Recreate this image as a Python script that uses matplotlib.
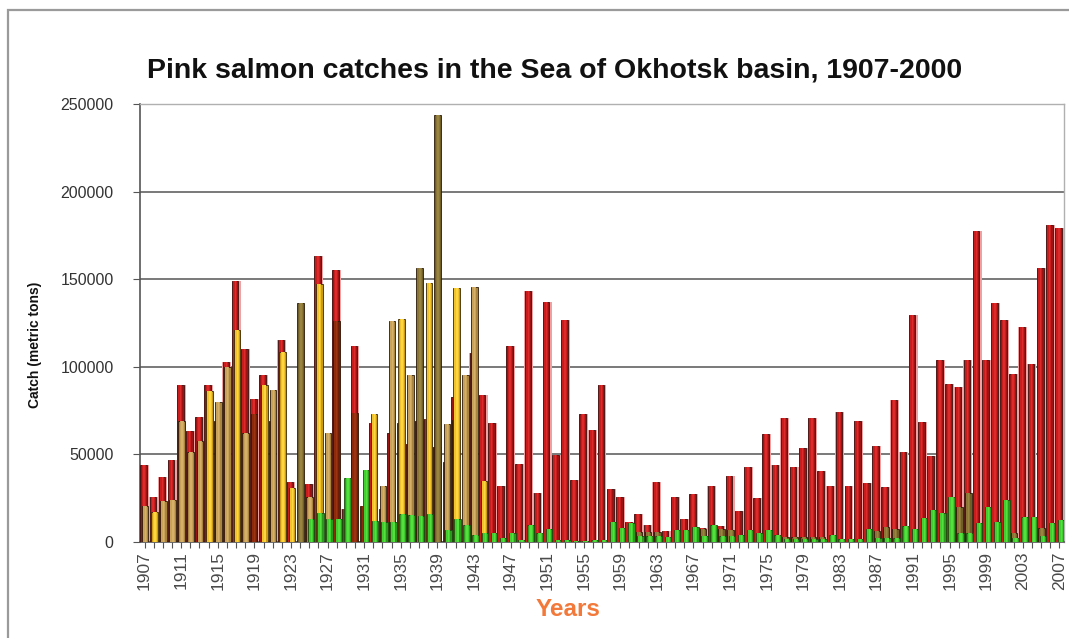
import numpy as np
import matplotlib
matplotlib.use("Agg")
import matplotlib.pyplot as plt
from matplotlib.patches import Rectangle

plt.rcParams['font.family'] = ['Liberation Sans', 'DejaVu Sans']

years = list(range(1907, 2008))

# Total catch by year, 1907-2007 (metric tons)
total = [
    44000, 25700, 36700, 46800, 89600, 63400, 71300, 89600, 0, 102700,
    149000, 110000, 81600, 95300, 0, 115000, 34200, 0, 33000, 163000,
    0, 155000, 18800, 112000, 0, 68000, 0, 62000, 0, 56000,
    69000, 70000, 54000, 0, 82800, 0, 108000, 84000, 68000, 32000,
    111500, 44500, 143000, 27600, 137000, 49500, 126500, 35000, 73000, 64000,
    89600, 30000, 25500, 11200, 15800, 9500, 34000, 6100, 25500, 12700,
    27000, 8000, 31800, 9000, 37700, 17500, 42400, 25000, 61800, 44000,
    70400, 42400, 53600, 70400, 40500, 32000, 73800, 31800, 68700, 33300,
    54400, 31000, 80700, 51000, 129400, 68100, 49000, 103600, 90200, 88100,
    103600, 177400, 103600, 136400, 126900, 96000, 122500, 101700, 156500, 180900,
    179400,
]

# Regional series, 1907-1946
early_years = list(range(1907, 1947))
gold = [
    0, 16700, 0, 0, 0, 0, 0, 86200, 0, 0,
    121000, 0, 0, 89600, 0, 108400, 30800, 0, 0, 147000,
    0, 0, 0, 0, 0, 73000, 0, 0, 127000, 0,
    0, 148000, 0, 0, 145000, 0, 0, 34400, 0, 0,
]
khaki = [
    20500, 0, 23000, 24000, 69000, 51000, 57600, 0, 80000, 100000,
    0, 62000, 0, 0, 86800, 0, 0, 0, 25700, 0,
    62000, 0, 0, 0, 0, 0, 32000, 125800, 0, 95300,
    0, 0, 0, 67300, 0, 95300, 145700, 0, 0, 0,
]
brown = [
    0, 0, 0, 0, 0, 0, 0, 0, 69000, 0,
    0, 0, 73000, 0, 69000, 0, 0, 0, 0, 0,
    0, 126000, 0, 73600, 20500, 0, 18800, 0, 68000, 0,
    0, 0, 0, 45800, 69600, 0, 0, 0, 0, 0,
]

# Olive series, 1907-2007
olive = [
    0, 0, 0, 0, 0, 0, 0, 0, 0, 0,
    0, 0, 0, 0, 0, 0, 0, 136400, 0, 0,
    0, 0, 0, 0, 0, 0, 0, 0, 0, 0,
    156600, 0, 243700, 0, 0, 0, 0, 0, 0, 0,
    0, 0, 0, 0, 0, 0, 0, 0, 0, 0,
    0, 0, 0, 0, 5700, 5700, 5700, 0, 0, 0,
    0, 7200, 0, 7200, 6700, 0, 0, 0, 0, 0,
    2900, 2900, 2900, 2500, 2500, 0, 0, 0, 0, 0,
    6100, 8200, 7000, 0, 0, 0, 0, 0, 0, 20000,
    28000, 0, 0, 0, 0, 4800, 0, 0, 7600, 0,
    0,
]

# Green series, 1907-2007
green = [
    0, 0, 0, 0, 0, 0, 0, 0, 0, 0,
    0, 0, 0, 0, 0, 0, 0, 0, 13000, 16500,
    13000, 13000, 36500, 0, 41000, 12000, 11000, 11000, 16000, 15000,
    14500, 16000, 0, 6700, 12700, 9500, 3800, 4800, 4800, 2000,
    4800, 1000, 9500, 4800, 7000, 1000, 1000, 500, 500, 1000,
    1000, 11000, 7600, 10500, 3000, 3000, 3000, 2900, 6700, 6700,
    8500, 3000, 9500, 3000, 3000, 3800, 6700, 5100, 6700, 3800,
    1500, 1500, 1500, 1500, 1500, 3800, 1500, 1500, 1500, 7000,
    2000, 2000, 2000, 8900, 7000, 13300, 18000, 16200, 25700, 5000,
    5000, 10500, 19600, 11400, 23800, 2000, 14300, 14300, 3000, 10800,
    12400,
]

x_all = np.array(years, dtype=float)
x_early = np.array(early_years, dtype=float)

fig = plt.figure(figsize=(10.69, 6.38), dpi=100)
fig.patch.set_facecolor('white')

# outer chart frame
fig.add_artist(Rectangle((8 / 1069, -0.01), 1.02, (638 - 10) / 638 + 0.01,
                         transform=fig.transFigure, fill=False,
                         edgecolor='#9a9a9a', linewidth=1.6))

ax = fig.add_axes([140 / 1069, (638 - 541.7) / 638, (1064 - 140) / 1069, (541.7 - 104) / 638])

W = 0.72


def cylinder(x, vals, dx, dark, mid, light, edge, z):
    """Column with darker sides and a brighter core, like a shaded cylinder."""
    ax.bar(x + dx, vals, width=W, color=dark, edgecolor=edge, linewidth=0.6, zorder=z)
    ax.bar(x + dx, vals, width=W * 0.62, color=mid, linewidth=0, zorder=z + 0.1)
    ax.bar(x + dx + 0.04, vals, width=W * 0.22, color=light, linewidth=0, zorder=z + 0.2)


# pale backing behind the total columns
ax.bar(x_all, total, width=0.98, color='#eca2a2', linewidth=0, zorder=2)
cylinder(x_all, total, -0.1, '#9a1414', '#c91d1d', '#dd2a2a', '#3a1010', 3)
cylinder(x_early, brown, -0.05, '#6e1e08', '#8e2a0c', '#9c3412', '#2b1a0a', 4)
cylinder(x_all, olive, 0.05, '#6f5e28', '#8b7636', '#9a8442', '#2b1a0a', 5)
cylinder(x_early, khaki, 0.05, '#a8843e', '#c9a259', '#d6b069', '#2b1a0a', 6)
cylinder(x_early, gold, 0.1, '#c99a12', '#f2c22a', '#ffd640', '#3a2a0a', 7)
cylinder(x_all, green, 0.2, '#2a9a1c', '#3fcf2e', '#56e040', '#1f4a12', 8)

ax.set_xlim(1906.5, 2007.5)
ax.set_ylim(0, 250000)
ax.set_yticks(np.arange(0, 250001, 50000))
ax.set_yticklabels([str(v) for v in range(0, 250001, 50000)], fontsize=11.5, color='#333333')
ax.yaxis.grid(True, color='#6e6e6e', linewidth=1.3, zorder=1)
ax.set_axisbelow(True)

ax.set_xticks(years[::4])
ax.set_xticklabels([str(y) for y in years[::4]], rotation=90, fontsize=12.5, color='#4a4a4a')
ax.set_xticks(years, minor=True)
ax.tick_params(axis='x', which='both', length=4, width=0.8, color='#555555', pad=3)
ax.tick_params(axis='y', length=5, width=0.8, color='#555555', pad=14)

for side in ['top', 'right']:
    ax.spines[side].set_color('#b0b0b0')
    ax.spines[side].set_linewidth(1.0)
ax.spines['left'].set_color('#555555')
ax.spines['left'].set_linewidth(1.2)
ax.spines['bottom'].set_color('#555555')
ax.spines['bottom'].set_linewidth(1.2)

fig.text(555 / 1069, 1 - 70 / 638, 'Pink salmon catches in the Sea of Okhotsk basin, 1907-2000',
         ha='center', va='center', fontsize=20.5, fontweight='bold', color='#111111')
fig.text(35 / 1069, 1 - 345 / 638, 'Catch (metric tons)', rotation=90, ha='center', va='center',
         fontsize=10, fontweight='bold', color='#111111')
fig.text(568 / 1069, 1 - 609 / 638, 'Years', ha='center', va='center',
         fontsize=17.5, fontweight='bold', color='#f2793a')

fig.savefig('out.png', dpi=100, facecolor='white')
